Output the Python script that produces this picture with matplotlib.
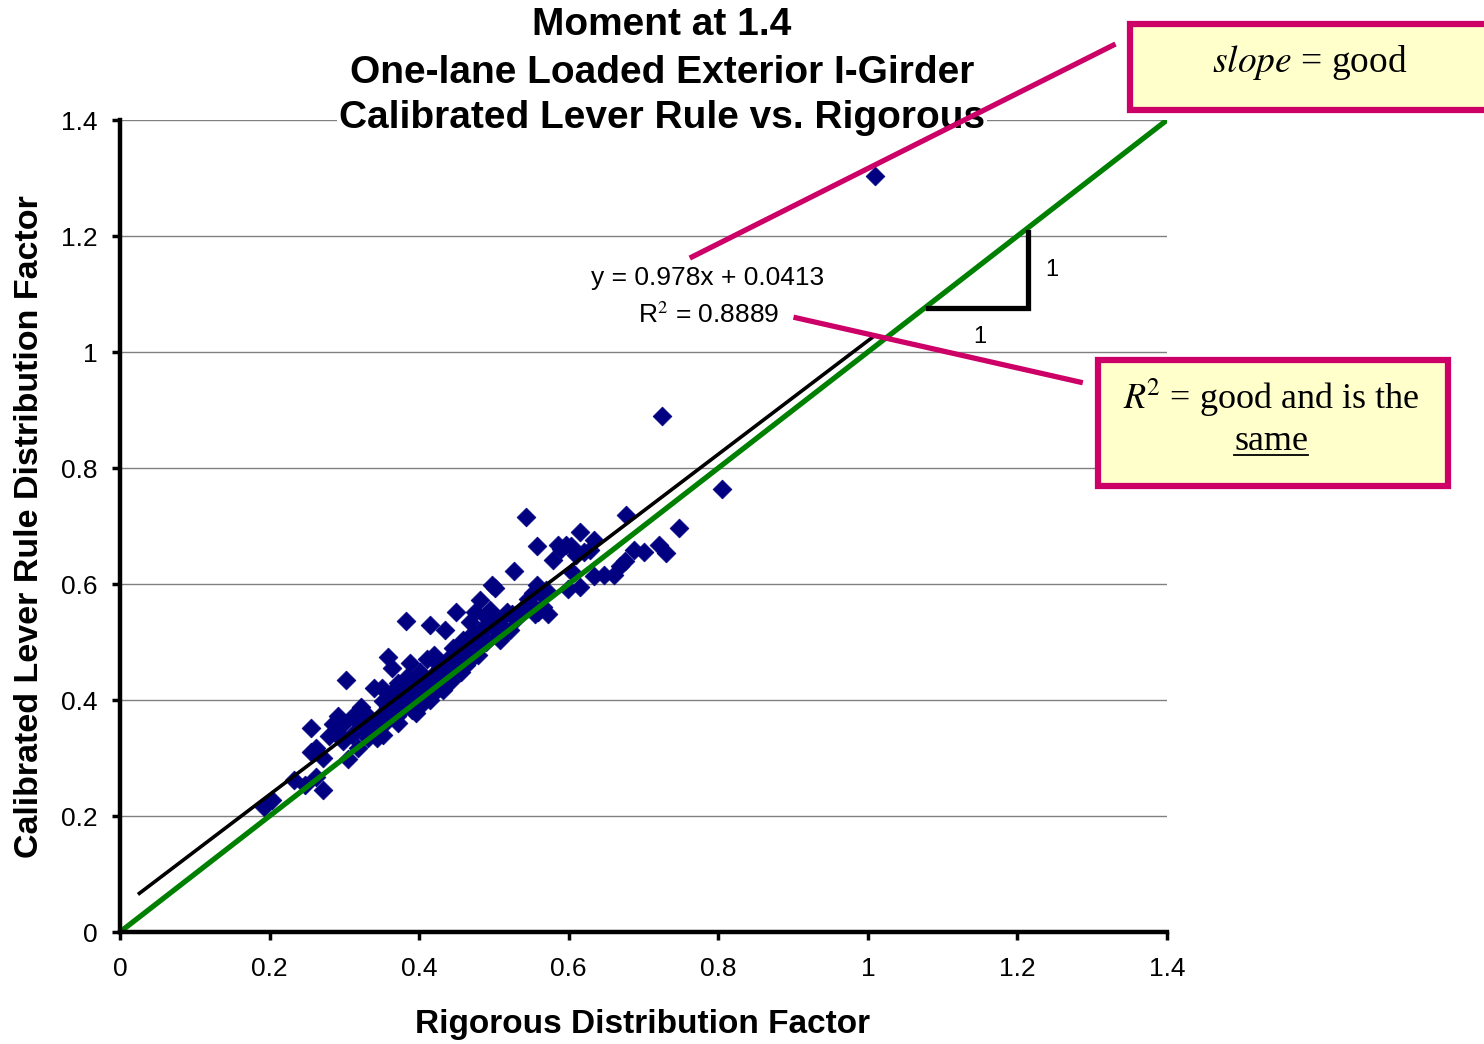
import matplotlib
matplotlib.use("Agg")
import matplotlib.pyplot as plt
from matplotlib.patches import Rectangle
from matplotlib.lines import Line2D

plt.rcParams['font.family'] = ['Liberation Sans', 'DejaVu Sans']
plt.rcParams['mathtext.fontset'] = 'stix'

# ---- data ----
rigorous = [0.193, 0.203, 0.232, 0.248, 0.262, 0.272, 0.255, 0.262, 0.272, 0.255,
            0.280, 0.285, 0.292, 0.300, 0.302, 0.305, 0.310, 0.312, 0.318, 0.322,
            0.325, 0.330, 0.332, 0.338, 0.340, 0.343, 0.348, 0.350, 0.352, 0.355,
            0.358, 0.360, 0.362, 0.364, 0.366, 0.370, 0.372, 0.375, 0.378, 0.380,
            0.382, 0.384, 0.386, 0.388, 0.390, 0.392, 0.395, 0.398, 0.400, 0.401,
            0.403, 0.405, 0.408, 0.410, 0.412, 0.414, 0.416, 0.418, 0.420, 0.422,
            0.424, 0.426, 0.430, 0.432, 0.435, 0.437, 0.439, 0.441, 0.443, 0.445,
            0.447, 0.449, 0.452, 0.454, 0.456, 0.459, 0.461, 0.463, 0.466, 0.468,
            0.468, 0.470, 0.472, 0.475, 0.477, 0.479, 0.481, 0.483, 0.486, 0.488,
            0.490, 0.492, 0.495, 0.497, 0.500, 0.501, 0.503, 0.506, 0.508, 0.510,
            0.513, 0.515, 0.518, 0.521, 0.524, 0.527, 0.530, 0.535, 0.540, 0.543,
            0.545, 0.548, 0.552, 0.555, 0.557, 0.557, 0.559, 0.561, 0.565, 0.570,
            0.572, 0.579, 0.586, 0.590, 0.596, 0.599, 0.603, 0.605, 0.610, 0.615,
            0.615, 0.620, 0.628, 0.634, 0.634, 0.647, 0.660, 0.669, 0.675, 0.677,
            0.687, 0.701, 0.721, 0.725, 0.730, 0.748, 0.805, 1.009,
            0.335, 0.345, 0.352, 0.368, 0.372, 0.385, 0.396, 0.405, 0.415, 0.428,
            0.290, 0.298, 0.318, 0.328, 0.342, 0.358, 0.376, 0.394, 0.410, 0.426]
calibrated = [0.215, 0.228, 0.262, 0.253, 0.268, 0.245, 0.310, 0.318, 0.300, 0.352,
              0.338, 0.358, 0.372, 0.360, 0.434, 0.298, 0.340, 0.372, 0.318, 0.388,
              0.358, 0.345, 0.335, 0.345, 0.420, 0.335, 0.372, 0.420, 0.398, 0.360,
              0.474, 0.380, 0.412, 0.455, 0.392, 0.372, 0.430, 0.380, 0.420, 0.395,
              0.536, 0.440, 0.405, 0.464, 0.382, 0.418, 0.398, 0.428, 0.392, 0.448,
              0.412, 0.440, 0.402, 0.470, 0.420, 0.529, 0.432, 0.410, 0.478, 0.448,
              0.425, 0.460, 0.438, 0.418, 0.521, 0.450, 0.470, 0.448, 0.432, 0.490,
              0.460, 0.552, 0.469, 0.495, 0.448, 0.503, 0.478, 0.460, 0.505, 0.486,
              0.534, 0.470, 0.515, 0.552, 0.498, 0.478, 0.572, 0.520, 0.508, 0.545,
              0.500, 0.530, 0.555, 0.598, 0.525, 0.593, 0.540, 0.510, 0.503, 0.528,
              0.545, 0.516, 0.552, 0.521, 0.548, 0.622, 0.540, 0.552, 0.560, 0.716,
              0.575, 0.567, 0.585, 0.548, 0.598, 0.666, 0.552, 0.584, 0.560, 0.590,
              0.548, 0.641, 0.667, 0.660, 0.667, 0.591, 0.665, 0.620, 0.650, 0.690,
              0.595, 0.655, 0.659, 0.676, 0.614, 0.616, 0.616, 0.631, 0.640, 0.719,
              0.659, 0.655, 0.667, 0.890, 0.653, 0.697, 0.764, 1.303,
              0.350, 0.365, 0.340, 0.390, 0.360, 0.410, 0.378, 0.395, 0.400, 0.455,
              0.345, 0.330, 0.362, 0.378, 0.355, 0.388, 0.402, 0.412, 0.430, 0.440]

trend_slope = 0.978
trend_intercept = 0.0413
trend_x = [0.024, 1.011]
unity_x = [0.0, 1.4]

ticks = [0, 0.2, 0.4, 0.6, 0.8, 1, 1.2, 1.4]
tick_labels = ['0', '0.2', '0.4', '0.6', '0.8', '1', '1.2', '1.4']

title_lines = ["Moment at 1.4", "One-lane Loaded Exterior I-Girder",
               "Calibrated Lever Rule vs. Rigorous"]

# ---- figure ----
W, H = 1484, 1044
fig = plt.figure(figsize=(W / 100, H / 100), dpi=100)
ax = fig.add_axes([120 / W, 1 - 932 / H, (1167 - 120) / W, (932 - 120) / H])

ax.set_xlim(0, 1.4)
ax.set_ylim(0, 1.4)

for t in ticks[1:]:
    ax.axhline(t, color='#808080', lw=1.0, zorder=1)

MAG = '#CC0066'

ax.plot(unity_x, unity_x, color='#008000', lw=3.8, zorder=3, solid_capstyle='butt')
ax.plot(trend_x, [trend_slope * v + trend_intercept for v in trend_x],
        color='black', lw=2.6, zorder=4, solid_capstyle='butt')
ax.scatter(rigorous, calibrated, marker='D', s=92, color='#000080',
           edgecolors='#000080', linewidths=0.5, zorder=2)

# slope triangle
ax.plot([1.080, 1.214, 1.214], [1.076, 1.076, 1.207], color='black', lw=3.8,
        zorder=5, solid_joinstyle='miter')
ax.text(1.246, 1.141, '1', fontsize=17, ha='center', va='center')
ax.text(1.150, 1.026, '1', fontsize=17, ha='center', va='center')

# equation
ax.text(0.786, 1.128, 'y = 0.978x + 0.0413', fontsize=19, ha='center', va='center')
ax.text(0.787, 1.064, r'R$^2$ = 0.8889', fontsize=19, ha='center', va='center')

# axes styling
for s in ['top', 'right']:
    ax.spines[s].set_visible(False)
for s in ['left', 'bottom']:
    ax.spines[s].set_linewidth(3.2)
    ax.spines[s].set_zorder(7)
ax.set_xticks(ticks)
ax.set_xticklabels(tick_labels)
ax.set_yticks(ticks)
ax.set_yticklabels(tick_labels)
ax.tick_params(axis='both', direction='out', length=6, width=2.5, labelsize=19,
               color='black')
ax.tick_params(axis='x', pad=12)
ax.tick_params(axis='y', pad=10)

fig.text(643 / W, 1 - 1025 / H, 'Rigorous Distribution Factor', fontsize=24,
         fontweight='bold', ha='center', va='center')
fig.text(30 / W, 1 - 527 / H, 'Calibrated Lever Rule Distribution Factor',
         fontsize=24.5, fontweight='bold', ha='center', va='center', rotation=90)

# title
ys = [25, 73, 118]
for i, (line, py) in enumerate(zip(title_lines, ys)):
    kw = {}
    if i == 2:
        kw['bbox'] = dict(facecolor='white', edgecolor='none', pad=1)
    fig.text(662 / W, 1 - py / H, line, fontsize=28, fontweight='bold',
             ha='center', va='center', zorder=10, **kw)

# magenta pointer lines (drawn above the title)
fig.add_artist(Line2D([0.765, 1.328], [1.164, 1.529], color=MAG, lw=3.8,
                      transform=ax.transData, clip_on=False, zorder=11))
fig.add_artist(Line2D([0.904, 1.284], [1.059, 0.948], color=MAG, lw=3.8,
                      transform=ax.transData, clip_on=False, zorder=11))

# callout boxes
fig.patches.append(Rectangle((1130 / W, 1 - 110 / H), 370 / W, 86 / H,
                             transform=fig.transFigure, facecolor='#FFFFCC',
                             edgecolor=MAG, lw=4.5, zorder=8, clip_on=False))
fig.text(1310 / W, 1 - 63 / H, r'$\mathit{slope}$ = good', fontsize=27,
         family='Liberation Serif', ha='center', va='center', zorder=9)

fig.patches.append(Rectangle((1098 / W, 1 - 486 / H), 350 / W, 126 / H,
                             transform=fig.transFigure, facecolor='#FFFFCC',
                             edgecolor=MAG, lw=4.5, zorder=8))
fig.text(1271 / W, 1 - 398 / H, r'$R^{\!2}$ = good and is the', fontsize=26,
         family='Liberation Serif', ha='center', va='center', zorder=9)
same = fig.text(1271 / W, 1 - 441 / H, 'same', fontsize=26,
                family='Liberation Serif', ha='center', va='center', zorder=9)
fig.canvas.draw()
bb = same.get_window_extent()
fig.add_artist(Line2D([bb.x0 / W, bb.x1 / W], [(bb.y0 + 3) / H, (bb.y0 + 3) / H],
                      transform=fig.transFigure, color='black', lw=1.3, zorder=9))

fig.savefig('out.png', dpi=100)
